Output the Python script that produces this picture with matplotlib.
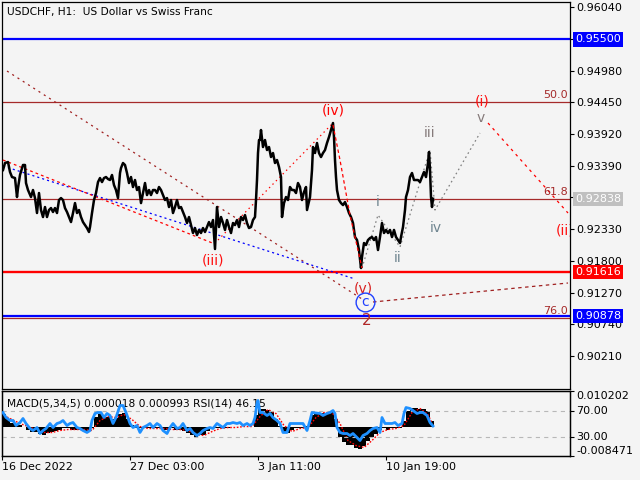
import matplotlib
matplotlib.use("Agg")
import matplotlib.pyplot as plt

plt.rcParams['font.family'] = ['DejaVu Sans']
plt.rcParams['lines.scale_dashes'] = False

# ---------------- data ----------------
bar_idx = [3, 5, 8, 10, 12, 15, 17, 18, 20, 23, 25, 26, 28, 31, 33, 35, 37, 39, 41, 43, 45, 47, 49, 51, 53, 55, 57, 59, 61, 63,
           65, 67, 69, 71, 73, 75, 77, 79, 81, 83, 85, 87, 89, 90, 92, 94, 96, 98, 100, 102, 104, 106, 108, 110, 112, 114, 116, 118,
           120, 121, 123, 125, 127, 129, 131, 133, 135, 137, 139, 141, 143, 145, 147, 149, 151, 153, 155, 157, 159, 161, 163, 165,
           167, 169, 171, 173, 175, 177, 179, 181, 183, 185, 187, 189, 191, 193, 195, 197, 199, 201, 203, 205, 207, 209, 211, 213,
           215, 217, 219, 221, 223, 225, 227, 229, 231, 233, 235, 237, 239, 241, 243, 245, 247, 249, 251, 253, 255, 256, 257, 258,
           259, 260, 261, 263, 265, 267, 269, 271, 273, 275, 277, 279, 281, 282, 284, 286, 288, 290, 292, 294, 296, 298, 300, 302,
           304, 306, 307, 310, 312, 313, 315, 317, 319, 321, 323, 325, 327, 329, 331, 333, 334, 335, 336, 337, 339, 341, 343, 345,
           347, 349, 351, 353, 355, 357, 359, 361, 362, 364, 366, 368, 370, 372, 374, 376, 378, 380, 382, 384, 386, 388, 390, 392,
           394, 396, 398, 400, 401, 403, 405, 406, 408, 410, 412, 414, 416, 418, 420, 422, 424, 426, 428, 429, 430, 431, 432, 433]
close = [0.93318, 0.93435, 0.93452, 0.93285, 0.93201, 0.93184, 0.92867, 0.93017, 0.93235, 0.93402, 0.93402, 0.93101, 0.92984,
         0.92867, 0.92984, 0.92850, 0.92600, 0.92934, 0.92650, 0.92533, 0.92700, 0.92533, 0.92650, 0.92683, 0.92617, 0.92683,
         0.92600, 0.92817, 0.92850, 0.92817, 0.92683, 0.92617, 0.92533, 0.92449, 0.92600, 0.92766, 0.92600, 0.92650, 0.92533,
         0.92449, 0.92399, 0.92349, 0.92283, 0.92366, 0.92600, 0.92817, 0.92934, 0.93117, 0.93184, 0.93117, 0.93184, 0.93201,
         0.93168, 0.93151, 0.93235, 0.93067, 0.92984, 0.92850, 0.93268, 0.93351, 0.93435, 0.93402, 0.93268, 0.93101, 0.93201,
         0.93034, 0.93151, 0.92984, 0.93034, 0.92766, 0.92934, 0.93101, 0.92900, 0.92984, 0.92900, 0.92984, 0.92984, 0.92934,
         0.93034, 0.92984, 0.92900, 0.92817, 0.92850, 0.92700, 0.92817, 0.92600, 0.92700, 0.92817, 0.92683, 0.92700, 0.92617,
         0.92533, 0.92433, 0.92533, 0.92399, 0.92266, 0.92349, 0.92232, 0.92317, 0.92266, 0.92349, 0.92283, 0.92366, 0.92449,
         0.92366, 0.92483, 0.91999, 0.92700, 0.92366, 0.92533, 0.92433, 0.92317, 0.92483, 0.92366, 0.92266, 0.92433, 0.92399,
         0.92483, 0.92366, 0.92533, 0.92483, 0.92566, 0.92433, 0.92349, 0.92366, 0.92483, 0.92533, 0.92817, 0.93151, 0.93602,
         0.93819, 0.93819, 0.93986, 0.93702, 0.93819, 0.93652, 0.93702, 0.93535, 0.93602, 0.93435, 0.93485, 0.93368, 0.93201,
         0.92533, 0.92766, 0.92867, 0.92817, 0.93034, 0.92984, 0.92984, 0.92934, 0.93101, 0.93034, 0.92817, 0.92950, 0.93034,
         0.92650, 0.92867, 0.93318, 0.93702, 0.93602, 0.93769, 0.93602, 0.93535, 0.93602, 0.93652, 0.93769, 0.93869, 0.93986,
         0.94103, 0.93869, 0.93485, 0.93201, 0.92984, 0.92817, 0.92766, 0.92733, 0.92783, 0.92700, 0.92600, 0.92533, 0.92433,
         0.92199, 0.92149, 0.91982, 0.91681, 0.91866, 0.92099, 0.92066, 0.92149, 0.92182, 0.92199, 0.92149, 0.92199, 0.91982,
         0.92199, 0.92433, 0.92266, 0.92317, 0.92266, 0.92317, 0.92199, 0.92317, 0.92199, 0.92149, 0.92099, 0.92199, 0.92366,
         0.92650, 0.92867, 0.92984, 0.93201, 0.93268, 0.93151, 0.93151, 0.93151, 0.93117, 0.93201, 0.93285, 0.93201, 0.93435,
         0.93619, 0.93318, 0.92867, 0.92700, 0.92838]

macd_idx = list(range(4, 433, 4))
macd_main = [0.00373, 0.00230, 0.00115, 0.00086, 0.00057, 0.0, -0.00086, -0.00144, -0.00144, -0.00201, -0.00230, -0.00172,
             -0.00144, -0.00115, -0.00086, -0.00057, -0.00057, -0.00086, -0.00086, -0.00086, -0.00115, -0.00144, -0.00057,
             0.00287, 0.00373, 0.00316, 0.00287, 0.00230, 0.00258, 0.00373, 0.00402, 0.00230, 0.00057, -0.00029, -0.00057,
             -0.00057, -0.00057, -0.00057, -0.00057, -0.00057, -0.00086, -0.00086, -0.00057, -0.00086, -0.00086, -0.00115,
             -0.00172, -0.00230, -0.00287, -0.00258, -0.00230, -0.00115, -0.00057, -0.00029, -0.00029, -0.00029, -0.00029,
             0.0, 0.0, 0.0, 0.0, 0.0, 0.0, 0.00344, 0.00517, 0.00517, 0.00488, 0.00431, 0.00230, 0.00029, -0.00144, -0.00172,
             -0.00086, -0.00029, -0.00029, -0.00029, 0.00029, 0.00344, 0.00431, 0.00402, 0.00402, 0.00402, 0.00431, 0.00230,
             -0.00287, -0.00459, -0.00517, -0.00545, -0.00603, -0.00660, -0.00574, -0.00402, -0.00287, -0.00201, -0.00086,
             -0.00057, -0.00086, -0.00057, -0.00057, -0.00029, 0.00172, 0.00459, 0.00545, 0.00545, 0.00517, 0.00517, 0.00459,
             0.00172]
signal_idx = [4, 12, 20, 28, 36, 44, 52, 60, 68, 76, 84, 92, 100, 108, 116, 124, 132, 140, 148, 156, 164, 172, 180, 188, 196,
              204, 212, 220, 228, 236, 244, 252, 260, 268, 276, 284, 292, 300, 308, 316, 324, 332, 340, 348, 356, 364, 372, 380,
              388, 396, 404, 412, 420, 428, 432]
signal = [0.00316, 0.00201, 0.00086, 0.0, -0.00086, -0.00172, -0.00172, -0.00115, -0.00086, -0.00086, -0.00086, -0.00115,
          0.00172, 0.00287, 0.00258, 0.00344, 0.00201, 0.0, -0.00057, -0.00057, -0.00057, -0.00086, -0.00086, -0.00115,
          -0.00230, -0.00258, -0.00144, -0.00057, -0.00029, -0.00029, 0.0, 0.0, 0.00287, 0.00488, 0.00373, 0.00029, -0.00144,
          -0.00057, -0.00029, 0.00258, 0.00402, 0.00402, 0.00086, -0.00402, -0.00545, -0.00603, -0.00402, -0.00172, -0.00086,
          -0.00057, 0.00029, 0.00402, 0.00517, 0.00344, 0.00099]

rsi_idx = [3, 6, 10, 13, 16, 20, 23, 26, 30, 33, 37, 40, 43, 46, 50, 53, 57, 60, 63, 67, 70, 73, 77, 80, 83, 87, 90, 92, 95, 98,
           101, 104, 107, 110, 113, 116, 120, 123, 126, 130, 133, 137, 140, 143, 147, 150, 153, 157, 160, 163, 167, 170, 173, 177,
           180, 183, 187, 190, 193, 197, 200, 203, 207, 210, 213, 217, 220, 223, 227, 230, 233, 237, 240, 243, 247, 250, 253, 255,
           257, 258, 260, 263, 267, 270, 273, 277, 280, 283, 287, 290, 293, 297, 300, 303, 307, 310, 312, 320, 323, 327, 330, 333,
           335, 337, 340, 343, 347, 350, 353, 357, 360, 363, 367, 370, 373, 377, 380, 382, 385, 388, 392, 395, 398, 402, 404, 406,
           410, 413, 417, 420, 423, 427, 430, 433]
rsi = [66.9, 59.2, 54.6, 54.6, 46.9, 51.5, 57.7, 50.0, 42.3, 39.2, 43.8, 34.6, 39.2, 42.3, 50.0, 43.8, 50.0, 51.5, 54.6, 46.9,
       50.0, 51.5, 43.8, 42.3, 39.2, 36.2, 39.2, 54.6, 65.4, 66.9, 66.9, 59.2, 65.4, 62.3, 50.0, 59.2, 77.7, 77.7, 66.9, 50.0,
       43.8, 46.9, 36.2, 43.8, 46.9, 50.0, 43.8, 50.0, 46.9, 39.2, 34.6, 43.8, 50.0, 42.3, 43.8, 50.0, 39.2, 42.3, 36.2, 31.5,
       34.6, 39.2, 42.3, 43.8, 42.3, 50.0, 46.9, 43.8, 50.0, 50.0, 51.5, 50.0, 51.5, 46.9, 50.0, 46.9, 50.0, 59.2, 80.8, 85.4,
       66.9, 66.9, 62.3, 65.4, 59.2, 54.6, 50.0, 36.2, 36.2, 50.0, 50.0, 50.0, 50.0, 50.0, 39.2, 54.6, 66.9, 65.4, 62.3, 65.4,
       66.9, 70.0, 65.4, 43.8, 36.2, 34.6, 34.6, 31.5, 34.6, 28.5, 23.8, 31.5, 34.6, 39.2, 42.3, 43.8, 36.2, 59.2, 50.0, 50.0,
       50.0, 51.5, 46.9, 50.0, 65.4, 74.6, 73.1, 70.0, 65.4, 66.9, 66.9, 62.3, 51.5, 46.15]

price_ticks = [0.96040, 0.95510, 0.94980, 0.94450, 0.93920, 0.93390, 0.92860, 0.92330, 0.91800, 0.91270, 0.90740, 0.90210]
time_ticks = [2, 130, 258, 386]
time_labels = ['16 Dec 2022', '27 Dec 03:00', '3 Jan 11:00', '10 Jan 19:00']

# horizontal levels
level_blue_top = 0.95500
level_red = 0.91616
level_blue_bottom = 0.90878
bid = 0.92838
fib_levels = [0.94450, 0.92838, 0.90846]
fib_names = ['50.0', '61.8', '76.0']

# wave / trend lines (time index, price)
trend_brown_t = [7, 362];  trend_brown_p = [0.94971, 0.91164]
trend_blue_t = [3, 355];   trend_blue_p = [0.93385, 0.91498]
trend_red1_t = [3, 215];   trend_red1_p = [0.93485, 0.92082]
trend_red2_t = [218, 332]; trend_red2_p = [0.92149, 0.94086]
trend_red3_t = [333, 340, 350, 362]; trend_red3_p = [0.94070, 0.93485, 0.92567, 0.91681]
trend_brown2_t = [373, 568]; trend_brown2_p = [0.91114, 0.91431]
wave_gray_t = [362, 378, 400, 430, 435, 480]
wave_gray_p = [0.91681, 0.92567, 0.92032, 0.93652, 0.92650, 0.93936]
trend_red4_t = [488, 568]; trend_red4_p = [0.94103, 0.92600]

wave_text = ['(iv)', '(iii)', '(v)', '2', '(i)', '(ii)', 'iii', 'v', 'i', 'ii', 'iv']
wave_t = [333, 213, 363, 367, 482, 556, 430, 481, 378, 398, 436]
wave_p = [0.94320, 0.91815, 0.91347, 0.90813, 0.94454, 0.92316, 0.93936, 0.94186, 0.92784, 0.91849, 0.92349]
wave_col = ['#ff0000', '#ff1010', '#d82020', '#b02828', '#ff1010', '#ff1010', '#857a7a', '#857a7a', '#6f8590', '#6f8590', '#6f8590']
wave_ha = ['center', 'center', 'center', 'center', 'center', 'left', 'center', 'center', 'center', 'center', 'center']
wave_fs = [10, 10, 10, 11, 10, 10, 10, 10, 10, 10, 10]
circle_t = [365]; circle_p = [0.91114]

# ---------------- drawing ----------------
BG = '#f4f4f4'
W, H = 640, 480
fig = plt.figure(figsize=(6.4, 4.8), dpi=100, facecolor=BG)
ax = fig.add_axes([2 / W, 1 - 389 / H, 568 / W, 387 / H], facecolor=BG)
axm = fig.add_axes([2 / W, 1 - 456 / H, 568 / W, 65 / H], facecolor=BG)
axr = axm.twinx()

for a in (ax, axm, axr):
    for s in a.spines.values():
        s.set_color('black'); s.set_linewidth(0.9)

ax.set_xlim(2, 570)
ax.set_ylim(0.89661, 0.96124)

# levels
ax.axhline(level_blue_top, color='#0000ff', lw=1.6, zorder=2)
ax.axhline(level_red, color='#ff0000', lw=1.7, zorder=2)
ax.axhline(level_blue_bottom, color='#0000ff', lw=1.6, zorder=2)
for lv, nm in zip(fib_levels, fib_names):
    ax.axhline(lv, color='#a52a2a', lw=0.9, zorder=2)
    ax.annotate(nm, xy=(568, lv), xytext=(0, 1.5), textcoords='offset points', ha='right', va='bottom',
                color='#a52a2a', fontsize=8, zorder=5)

# trend lines
ax.plot(trend_brown_t, trend_brown_p, color='#a02020', lw=0.9, dashes=(1.5, 3), zorder=3)
ax.plot(trend_blue_t, trend_blue_p, color='#0000ff', lw=0.9, dashes=(1.5, 2.2), zorder=3)
ax.plot(trend_red1_t, trend_red1_p, color='#ff0000', lw=0.9, dashes=(2, 2.2), zorder=3)
ax.plot(trend_red2_t, trend_red2_p, color='#ff0000', lw=0.9, dashes=(1, 2.5), zorder=3)
ax.plot(trend_red3_t, trend_red3_p, color='#ff0000', lw=0.9, dashes=(2.5, 2), zorder=5)
ax.plot(trend_brown2_t, trend_brown2_p, color='#a02020', lw=0.9, dashes=(2.5, 2.5), zorder=3)
ax.plot(wave_gray_t, wave_gray_p, color='#808080', lw=0.9, dashes=(1.2, 2.2), zorder=3)
ax.plot(trend_red4_t, trend_red4_p, color='#ff0000', lw=0.9, dashes=(2, 3), zorder=3)

# price
ax.plot(bar_idx, close, color='black', lw=1.8, zorder=4)

# wave labels
for txt, t, p, c, ha, fs in zip(wave_text, wave_t, wave_p, wave_col, wave_ha, wave_fs):
    ax.text(t, p, txt, color=c, fontsize=fs, ha=ha, va='center', zorder=6, clip_on=True)
ax.plot(circle_t, circle_p, marker='o', ms=13.5, mfc='none', mec='#2040ff', mew=1.0, ls='none', zorder=6)
ax.text(circle_t[0], circle_p[0], 'c', color='#2040ff', fontsize=10, ha='center', va='center', zorder=6)

# y axis
ax.set_xticks([])
ax.yaxis.tick_right()
ax.set_yticks(price_ticks, [f'{v:.5f}' for v in price_ticks])
ax.tick_params(axis='y', direction='out', length=3, width=0.8, pad=1.5, labelsize=8, colors='black')
ytr = ax.get_yaxis_transform()
for v, fc in [(level_blue_top, '#0000ff'), (bid, '#c0c0c0'), (level_red, '#ff0000'), (level_blue_bottom, '#0000ff')]:
    ax.text(1.0085, v, f'{v:.5f}', transform=ytr, color='white', fontsize=8, ha='left', va='center',
            bbox=dict(boxstyle='square,pad=0.2', fc=fc, ec='none'), zorder=10, clip_on=False)

fig.text(7 / W, 1 - 12 / H, 'USDCHF, H1:  US Dollar vs Swiss Franc', fontsize=7.7, va='center', ha='left')

# indicator panel
axm.set_xlim(2, 570)
axm.set_ylim(-0.008471, 0.010202)
axm.bar(macd_idx, macd_main, width=4, color='black', align='center', zorder=2)
axm.plot(signal_idx, signal, color='#ff0000', lw=1.0, dashes=(1.2, 1.2), zorder=3)
axm.yaxis.tick_right()
axm.set_yticks([0.010202, -0.008471], ['0.010202', '-0.008471'])
axm.tick_params(axis='y', direction='out', length=3, width=0.8, pad=1.5, labelsize=8)
labs = axm.get_yticklabels()
labs[0].set_va('top'); labs[1].set_va('bottom')
axm.set_xticks(time_ticks, time_labels)
axm.tick_params(axis='x', direction='out', length=3, width=0.8, pad=1.5, labelsize=8)
for lab in axm.get_xticklabels():
    lab.set_ha('left')

axr.set_ylim(0, 100)
axr.axhline(70, color='#b8b8b8', lw=0.8, dashes=(3, 3), zorder=1)
axr.axhline(30, color='#b8b8b8', lw=0.8, dashes=(3, 3), zorder=1)
axr.plot(rsi_idx, rsi, color='#1e90ff', lw=2.0, zorder=3)
axr.set_yticks([70, 30], ['70.00', '30.00'])
axr.tick_params(axis='y', direction='out', length=3, width=0.8, pad=1.5, labelsize=8)
axm.text(5 / 568, 0.8, 'MACD(5,34,5) 0.000018 0.000993 RSI(14) 46.15', transform=axm.transAxes,
         fontsize=7.7, va='center', ha='left', zorder=8)

fig.savefig('out.png', dpi=100, facecolor=BG)
